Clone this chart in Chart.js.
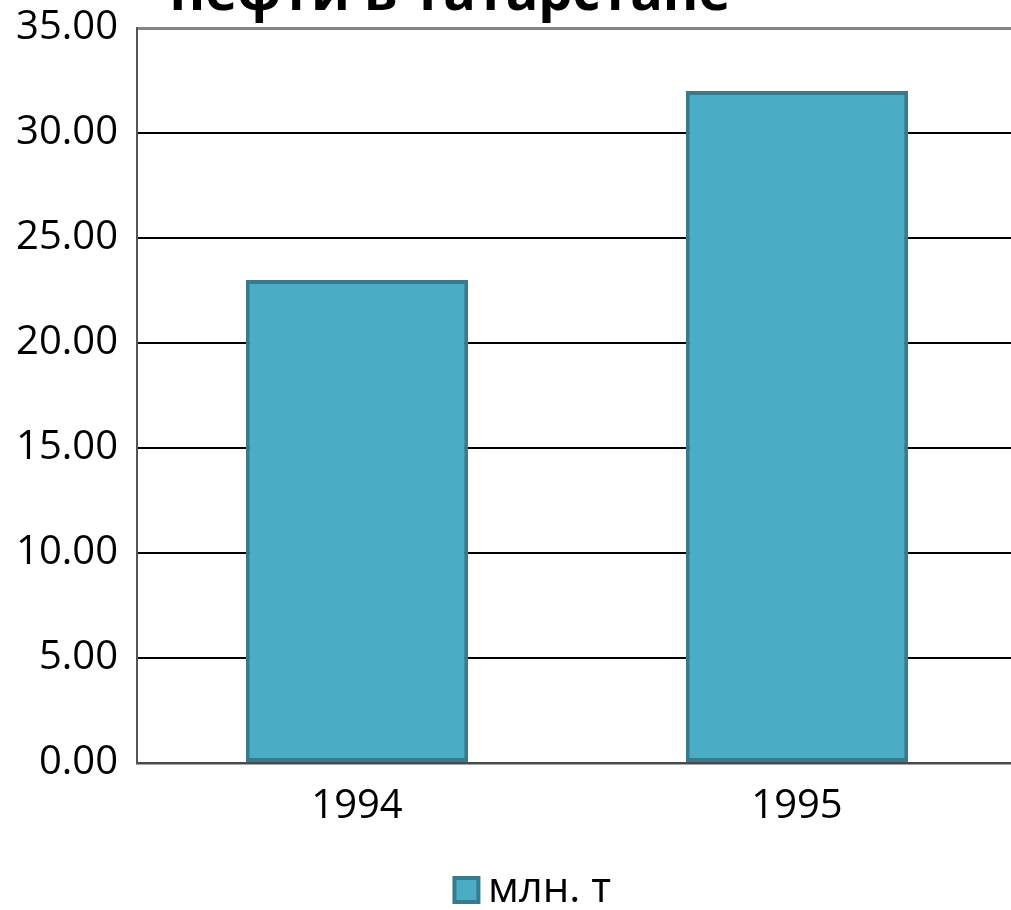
<!DOCTYPE html>
<html><head><meta charset="utf-8">
<script src="https://cdn.jsdelivr.net/npm/chart.js@4"></script>
<style>
html,body{margin:0;padding:0;background:#fff;overflow:hidden;width:1011px;height:910px}
#wrap{position:absolute;left:0;top:0;width:1077px;height:921px}
</style></head><body>
<div id="wrap"><canvas id="c" width="1077" height="921"></canvas></div>
<script>
const titleText = 'нефти в Татарстане';
const categories = ['1994', '1995'];
const seriesName = 'млн. т';
const seriesValues = [23, 32];
const yTickLabels = ['0.00','5.00','10.00','15.00','20.00','25.00','30.00','35.00'];

const FONT = '"Open Sans", "Noto Sans", sans-serif';

const cutTitle = {
  id: 'cutTitle',
  afterDraw(chart) {
    const ctx = chart.ctx;
    ctx.save();
    ctx.font = 'bold 54px ' + FONT;
    ctx.fillStyle = '#000';
    ctx.textAlign = 'center';
    ctx.textBaseline = 'alphabetic';
    ctx.fillText(titleText, 450, 10);
    ctx.restore();
  }
};

new Chart(document.getElementById('c'), {
  type: 'bar',
  data: {
    labels: categories,
    datasets: [{
      label: seriesName,
      data: seriesValues,
      backgroundColor: '#4BACC6',
      borderColor: '#367C8E',
      borderWidth: 4,
      borderSkipped: false,
      categoryPercentage: 1,
      barPercentage: 0.505
    }]
  },
  options: {
    responsive: false,
    animation: false,
    devicePixelRatio: 1,
    layout: { padding: { top: 28, right: 0, left: 0, bottom: 0 } },
    plugins: {
      title: { display: false },
      tooltip: { enabled: false },
      legend: {
        position: 'bottom',
        labels: {
          color: '#000',
          font: { family: FONT, size: 42 },
          usePointStyle: true,
          pointStyle: 'rect',
          boxWidth: 1,
          boxHeight: 24,
          padding: 10
        }
      }
    },
    scales: {
      x: {
        grid: { display: false, drawTicks: false },
        border: { display: true, color: '#4a4a4a', width: 2.5 },
        ticks: { color: '#000', font: { family: FONT, size: 40 }, padding: 20 },
        afterFit(scale) { scale.height = 96; scale.paddingLeft = 0; scale.paddingRight = 0; }
      },
      y: {
        min: 0, max: 35,
        grid: {
          drawTicks: false,
          color: (c) => c.tick && c.tick.value === 35 ? '#858585' : '#000',
          lineWidth: (c) => c.tick && c.tick.value === 35 ? 3 : 2
        },
        border: { display: true, color: '#555', width: 2 },
        ticks: {
          stepSize: 5,
          color: '#000',
          font: { family: FONT, size: 40 },
          padding: 19,
          callback: (v, i) => yTickLabels[i]
        },
        afterFit(scale) { scale.width = 137; scale.paddingTop = 0; scale.paddingBottom = 0; }
      },
      spacer: {
        type: 'linear',
        position: 'right',
        display: true,
        grid: { display: false, drawTicks: false },
        border: { display: false },
        ticks: { display: false },
        afterFit(scale) { scale.width = 60; scale.paddingTop = 0; scale.paddingBottom = 0; }
      }
    }
  },
  plugins: [cutTitle]
});
</script>
</body></html>
